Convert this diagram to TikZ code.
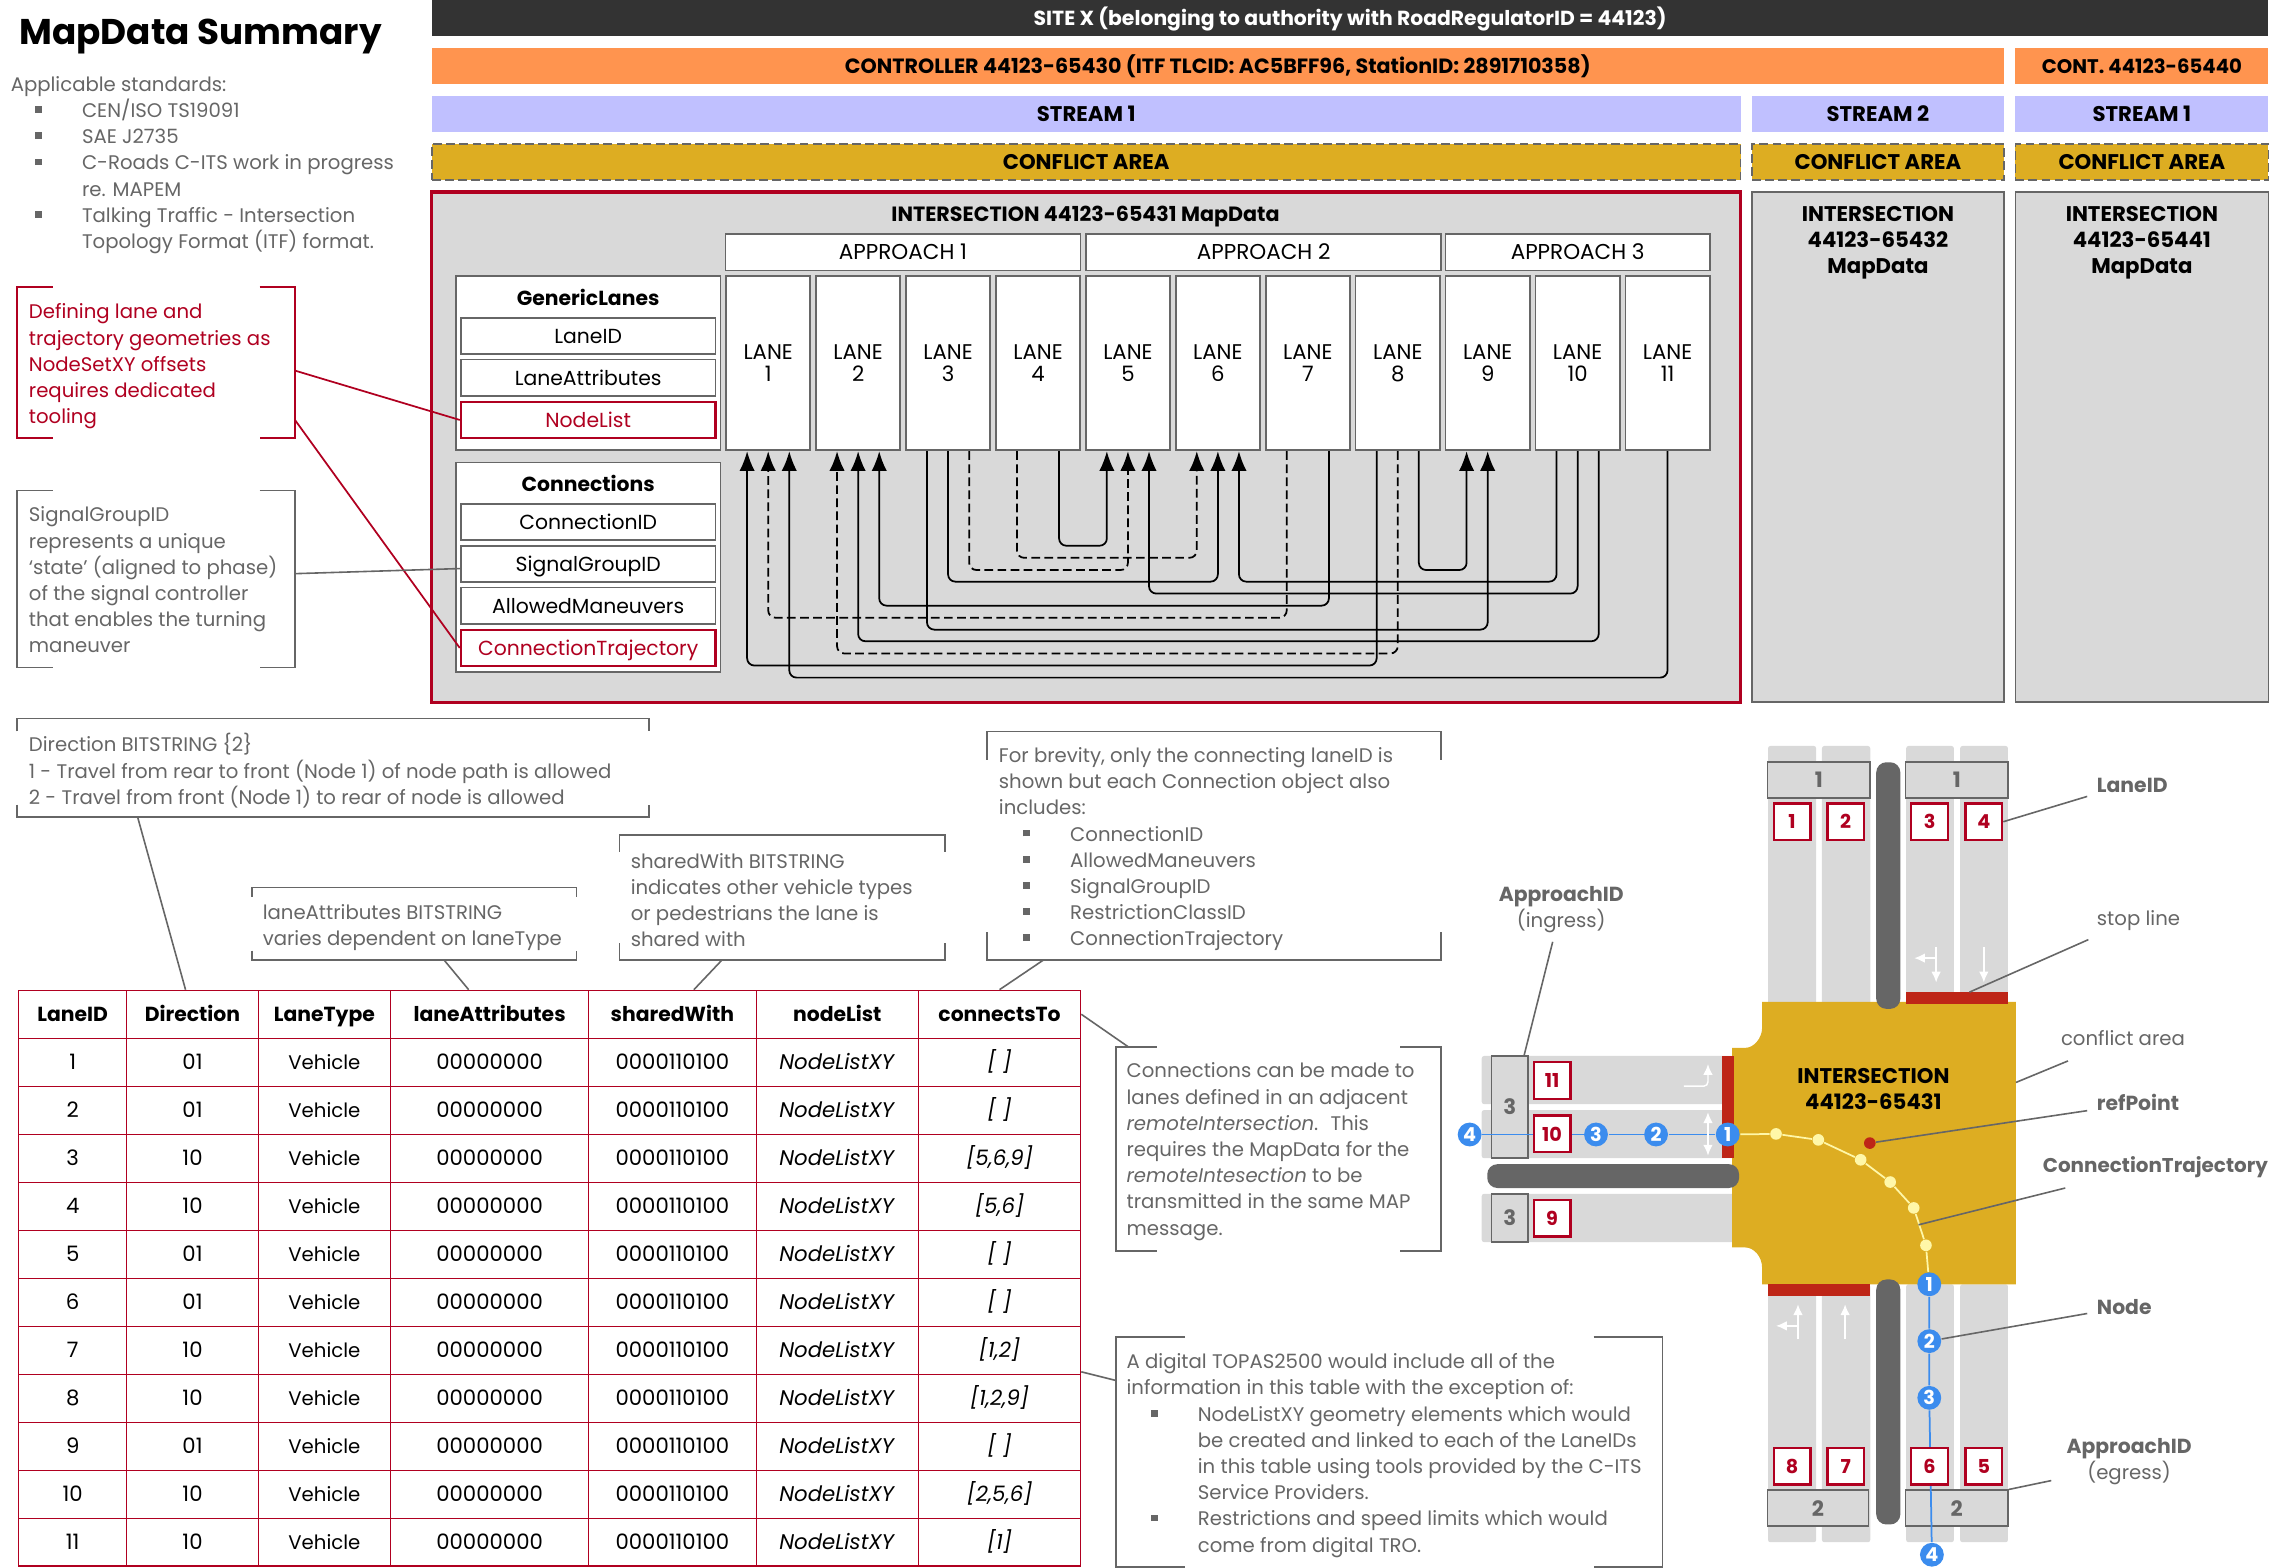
\documentclass[tikz,border=0pt]{standalone}
\usepackage{fontspec}
\setmainfont{Poppins}
\usetikzlibrary{arrows.meta,positioning,fit}
\definecolor{mapred}{HTML}{B00020}
\definecolor{notegray}{HTML}{666666}
\definecolor{roadgray}{HTML}{D9D9D9}
\definecolor{goldarea}{HTML}{DDAD22}
\definecolor{stopred}{HTML}{BE2517}
\definecolor{nodeblue}{HTML}{3B8CEE}
\definecolor{nodeyellow}{HTML}{FFF7A8}
\definecolor{bandstream}{HTML}{C0C0FF}
\definecolor{bandctrl}{HTML}{FF944F}
\definecolor{bandsite}{HTML}{333333}
\newcommand{\bodyfont}{\fontsize{7.3}{9}\selectfont}
\newcommand{\notefont}{\fontsize{6.77}{9}\selectfont}
\newcommand{\fieldfont}{\fontsize{7}{9}\selectfont}
\newcommand{\lanefont}{\fontsize{7.3}{7.6}\selectfont}
\newcommand{\smallfont}{\fontsize{6.6}{7.6}\selectfont}
\newcommand{\bitem}{\makebox[24.5pt][l]{\hspace{8.4pt}\rule[1.6pt]{2.3pt}{2.3pt}}}
\newcommand{\bcont}{\hspace*{24.5pt}}
% open boxes round the notes
\newcommand{\hticks}[3][notegray]{
\draw[bracket,#1] ([xshift=#3]#2.north west) -- (#2.north west) -- (#2.south west) -- ([xshift=#3]#2.south west);
\draw[bracket,#1] ([xshift=-#3]#2.north east) -- (#2.north east) -- (#2.south east) -- ([xshift=-#3]#2.south east);}
\newcommand{\vticks}[2]{
\draw[bracket] ([yshift=-#2]#1.north west) -- (#1.north west) -- (#1.north east) -- ([yshift=-#2]#1.north east);
\draw[bracket] ([yshift=#2]#1.south west) -- (#1.south west) -- (#1.south east) -- ([yshift=#2]#1.south east);}
\newcommand{\tablerow}[4]{
\pgfmathsetmacro{\ry}{697.5+33*#1}
\node[tcell=74.3] (r#1a) at (50,\ry) {#2};
\node[tcell=90.6] (r#1b) at (132.4,\ry) {#3};
\node[tcell=90.8, font=\notefont] (r#1c) at (223.1,\ry) {Vehicle};
\node[tcell=136.3] (r#1d) at (336.7,\ry) {00000000};
\node[tcell=115.2] (r#1e) at (462.4,\ry) {0000110100};
\node[tcell=111.6] (r#1f) at (575.8,\ry) {\textit{NodeListXY}};
\node[tcell=111.6] (r#1g) at (687.4,\ry) {\textit{#4}};}
\tikzset{
  oneline/.style = {text height=6.3pt, text depth=1.1pt},
  struts/.style = {execute at begin node={\rule{0pt}{7.6pt}}, execute at end node={\rule[-1.2pt]{0pt}{1.2pt}}},
  band/.style = {oneline, minimum height=12.5pt, font=\bodyfont\bfseries},
  bracket/.style = {notegray, line width=0.6pt},
  fieldbox/.style = {oneline, draw=notegray, line width=0.6pt, fill=white, minimum width=87.5pt, minimum height=12.5pt, font=\fieldfont},
  fieldred/.style = {fieldbox, draw=mapred, text=mapred, line width=0.8pt},
  lanebox/.style = {draw=notegray, line width=0.6pt, fill=white, minimum width=29pt, minimum height=60pt, align=center, font=\lanefont},
  apbox/.style = {oneline, draw=notegray, line width=0.6pt, fill=white, minimum height=12.5pt, font=\fontsize{7.4}{9}\selectfont},
  link/.style = {line width=0.6pt, rounded corners=2.5pt, -{Latex[length=6.8pt,width=5.3pt]}},
  dashlink/.style = {link, dash pattern=on 3pt off 1.5pt},
  tcell/.style = {oneline, draw=mapred, line width=0.4pt, minimum width=#1*0.5pt, minimum height=16.5pt},
  thead/.style = {tcell=#1, font=\fieldfont\bfseries},
  notetext/.style = {struts, yshift=-1pt, anchor=west, align=left, text=notegray, font=\notefont},
  tagline/.style = {notegray, line width=0.55pt},
  road/.style = {roadgray, rounded corners=0.8pt},
  median/.style = {notegray, rounded corners=3.5pt},
  aproach/.style = {draw=notegray, line width=0.6pt, fill=roadgray, text=notegray, font=\bodyfont\bfseries},
  idbox/.style = {draw=mapred, line width=0.8pt, fill=white, text=mapred, minimum size=12.6pt, font=\smallfont\bfseries},
  nodedot/.style = {circle, fill=nodeblue, text=white, minimum size=8.2pt, font=\smallfont\bfseries},
  trajdot/.style = {circle, fill=nodeyellow, minimum size=4pt},
  turn/.style = {white, line width=0.5pt, -{Latex[length=3.7pt,width=3.3pt]}},
  tag/.style = {oneline, text=notegray, font=\fieldfont\bfseries},
  plaintag/.style = {oneline, anchor=west, text=notegray, font=\notefont},
}
\begin{document}
\begin{tikzpicture}[x=0.5pt, y=-0.5pt, every node/.style={inner sep=0pt, font=\bodyfont}, node distance=1.3pt]
\useasboundingbox (0,0) rectangle (1568,1078.3);

% header
\node[font=\fontsize{12.3}{16}\selectfont\bfseries, anchor=west] (title) at (13,25) {MapData Summary};
\node[notetext] (standards) at (7,111.5) {Applicable standards:\\
\bitem CEN/ISO TS19091\\
\bitem SAE J2735\\
\bitem C-Roads C-ITS work in progress\\
\bcont re. MAPEM\\
\bitem Talking Traffic - Intersection\\
\bcont Topology Format (ITF) format.};

% bands
\node[band, fill=bandsite, text=white, minimum width=631.5pt, font=\fieldfont\bfseries] (site) at (928.5,12.5) {SITE X (belonging to authority with RoadRegulatorID = 44123)};
\node[band, fill=bandctrl, minimum width=540.5pt, font=\fontsize{7.1}{9}\selectfont\bfseries] (ctrl1) at (837.5,45.5) {CONTROLLER 44123-65430 (ITF TLCID: AC5BFF96, StationID: 2891710358)};
\node[band, fill=bandctrl, minimum width=87pt, font=\notefont\bfseries] (ctrl2) at (1473,45.5) {CONT. 44123-65440};
\foreach \n/\cx/\w/\lab in {a/747/450/STREAM 1, b/1291.5/86.5/STREAM 2, c/1473/87/STREAM 1} {
  \node[band, fill=bandstream, minimum width=\w pt] (stream\n) at (\cx,78.5) {\lab};
  \node[band, fill=goldarea, draw=notegray, dash pattern=on 3pt off 1.5pt, line width=0.6pt, minimum width=\w pt] (conflict\n) at (\cx,111.5) {CONFLICT AREA};
}

% intersections
\node[fill=roadgray, draw=mapred, line width=1.1pt, minimum width=450pt, minimum height=175.5pt] (isecta) at (747,307.5) {};
\node[fill=roadgray, draw=notegray, line width=0.6pt, minimum width=86.5pt, minimum height=175.5pt] (isectb) at (1291.5,307.5) {};
\node[fill=roadgray, draw=notegray, line width=0.6pt, minimum width=87pt, minimum height=175.5pt] (isectc) at (1473,307.5) {};
\node[oneline, font=\fontsize{7.1}{9}\selectfont\bfseries] (isecttitlea) at (746.5,147) {INTERSECTION 44123-65431 MapData};
\node[struts, font=\bodyfont\bfseries, align=center] (isecttitleb) at (1291.5,167) {INTERSECTION\\44123-65432\\MapData};
\node[struts, font=\bodyfont\bfseries, align=center] (isecttitlec) at (1473,167) {INTERSECTION\\44123-65441\\MapData};

\node[apbox, minimum width=122pt] (appr1) at (621,173.5) {APPROACH 1};
\node[apbox, minimum width=122pt] (appr2) at (869,173.5) {APPROACH 2};
\node[apbox, minimum width=91pt] (appr3) at (1085,173.5) {APPROACH 3};
\foreach \i in {1,...,11}
  \node[lanebox] (lane\i) at ({528.3+61.85*(\i-1)},249.7) {LANE\\\i};

% field groups
\node[draw=notegray, line width=0.6pt, fill=white, minimum width=91pt, minimum height=60pt] (glanes) at (404.5,249.7) {};
\node[oneline, font=\fieldfont\bfseries] (glanestitle) at (404.5,205) {GenericLanes};
\node[fieldbox] (laneid) at (404.5,231) {LaneID};
\node[fieldbox, below=of laneid] (laneattr) {LaneAttributes};
\node[fieldred, below=of laneattr] (nodelist) {NodeList};
\node[draw=notegray, line width=0.6pt, fill=white, minimum width=91pt, minimum height=72pt] (conns) at (404.5,390) {};
\node[oneline, font=\fieldfont\bfseries] (connstitle) at (404.5,333) {Connections};
\node[fieldbox] (connid) at (404.5,359) {ConnectionID};
\node[fieldbox, below=of connid] (siggroup) {SignalGroupID};
\node[fieldbox, below=of siggroup] (allowed) {AllowedManeuvers};
\node[fieldred, below=of allowed] (conntraj) {ConnectionTrajectory};

% lane connections: from/offset/to/offset/level
\foreach \a/\fx/\b/\tx/\lvl in {4/7.25/5/-7.25/375.3, 8/7.25/9/-7.25/392, 3/0/6/0/400, 10/-7.25/6/7.25/400,
  10/0/5/7.25/408.2, 7/7.25/2/7.25/416.5, 3/-7.25/9/0/433, 10/7.25/2/0/441, 8/-7.25/1/-7.25/457.7, 11/0/1/7.25/466}
  \draw[link] ([xshift=\fx pt]lane\a.south) -- ([xshift=\fx pt]lane\a.south |- 0,\lvl) -- ([xshift=\tx pt]lane\b.south |- 0,\lvl) -- ([xshift=\tx pt]lane\b.south);
\foreach \a/\fx/\b/\tx/\lvl in {4/-7.25/6/-7.25/383.6, 3/7.25/5/0/392, 7/-7.25/1/0/424.8, 8/0/2/-7.25/449.4}
  \draw[dashlink] ([xshift=\fx pt]lane\a.south) -- ([xshift=\fx pt]lane\a.south |- 0,\lvl) -- ([xshift=\tx pt]lane\b.south |- 0,\lvl) -- ([xshift=\tx pt]lane\b.south);

% notes on the left
\node[fit={(12.3,198) (202.6,301)}] (rednote) {};
\node[notetext, text=mapred] (rednotetext) at (19.5,250) {Defining lane and\\trajectory geometries as\\NodeSetXY offsets\\requires dedicated\\tooling};
\hticks[mapred]{rednote}{12.2pt}
\node[fit={(12.3,337.7) (202.6,458.7)}] (signote) {};
\node[notetext] (signotetext) at (19.5,398) {SignalGroupID\\represents a unique\\‘state’ (aligned to phase)\\of the signal controller\\that enables the turning\\maneuver};
\hticks{signote}{12.2pt}
\draw[mapred, line width=0.6pt] ([yshift=-2.7pt]rednote.east) -- (nodelist.west);
\draw[mapred, line width=0.6pt] ([yshift=6.2pt]rednote.south east) -- (conntraj.west);
\draw[tagline] ([yshift=1.85pt]signote.east) -- ([yshift=-1.6pt]siggroup.west);

% table
\foreach \cx/\w/\name/\lab in {50/74.3/a/LaneID, 132.4/90.6/b/Direction, 223.1/90.8/c/LaneType, 336.7/136.3/d/laneAttributes, 462.4/115.2/e/sharedWith, 575.8/111.6/f/nodeList, 687.4/111.6/g/connectsTo}
  \node[thead=\w] (head\name) at (\cx,697.5) {\lab};
\tablerow{1}{1}{01}{[ ]}
\tablerow{2}{2}{01}{[ ]}
\tablerow{3}{3}{10}{[5,6,9]}
\tablerow{4}{4}{10}{[5,6]}
\tablerow{5}{5}{01}{[ ]}
\tablerow{6}{6}{01}{[ ]}
\tablerow{7}{7}{10}{[1,2]}
\tablerow{8}{8}{10}{[1,2,9]}
\tablerow{9}{9}{01}{[ ]}
\tablerow{10}{10}{10}{[2,5,6]}
\tablerow{11}{11}{10}{[1]}

% notes round the table
\node[fit={(12.3,494.5) (446,561.7)}] (dirnote) {};
\node[notetext] (dirnotetext) at (19.5,528) {Direction BITSTRING \{2\}\\1 - Travel from rear to front (Node 1) of node path is allowed\\2 - Travel from front (Node 1) to rear of node is allowed};
\vticks{dirnote}{4.4pt}
\node[fit={(173.7,610.8) (396,659.7)}] (attrnote) {};
\node[notetext] (attrnotetext) at (180.3,636) {laneAttributes BITSTRING\\varies dependent on laneType};
\vticks{attrnote}{3.2pt}
\node[fit={(426.4,574.7) (649.6,659.7)}] (sharednote) {};
\node[notetext] (sharednotetext) at (433.4,618) {sharedWith BITSTRING\\indicates other vehicle types\\or pedestrians the lane is\\shared with};
\vticks{sharednote}{5.7pt}
\node[fit={(679.3,503.4) (990.5,660)}] (brevnote) {};
\node[notetext] (brevnotetext) at (686.6,582) {For brevity, only the connecting laneID is\\shown but each Connection object also\\includes:\\
\bitem ConnectionID\\
\bitem AllowedManeuvers\\
\bitem SignalGroupID\\
\bitem RestrictionClassID\\
\bitem ConnectionTrajectory};
\vticks{brevnote}{9.7pt}
\node[fit={(768,720.5) (990.5,859.7)}] (remotenote) {};
\node[notetext] (remotenotetext) at (774.4,790) {Connections can be made to\\lanes defined in an adjacent\\\textit{remoteIntersection}.~ This\\requires the MapData for the\\\textit{remoteIntesection} to be\\transmitted in the same MAP\\message.};
\hticks{remotenote}{14pt}
\node[fit={(768,920) (1143,1077)}] (topasnote) {};
\node[notetext] (topasnotetext) at (774.4,999) {A digital TOPAS2500 would include all of the\\information in this table with the exception of:\\
\bitem NodeListXY geometry elements which would\\
\bcont be created and linked to each of the LaneIDs\\
\bcont in this table using tools provided by the C-ITS\\
\bcont Service Providers.\\
\bitem Restrictions and speed limits which would\\
\bcont come from digital TRO.};
\hticks{topasnote}{23.7pt}
\draw[tagline] ([xshift=41.4pt]dirnote.south west) -- ([xshift=-2.4pt]headb.north);
\draw[tagline] ([xshift=66pt]attrnote.south west) -- ([xshift=-7.2pt]headd.north);
\draw[tagline] ([xshift=35.3pt]sharednote.south west) -- ([xshift=7.4pt]heade.north);
\draw[tagline] ([xshift=19.2pt]brevnote.south west) -- (headg.north);
\draw[tagline] (headg.east) -- ([xshift=4.3pt]remotenote.north west);
\draw[tagline] ([yshift=1pt]r7g.south east) -- ([yshift=-14.9pt]topasnote.north west);

% junction
\foreach \xa/\xb in {1215.9/1249, 1253/1286.2, 1310.9/1343.7, 1348/1380.9} {
  \fill[road] (\xa,513) rectangle (\xb,690.5);
  \fill[road] (\xb,883.2) rectangle (\xa,1060.6);
}
\foreach \ya/\yb in {726.2/759.3, 763.4/796.5, 821/854.2}
  \fill[road] (1019,\ya) rectangle (1192.6,\yb);
\fill[goldarea] (1211.8,689) -- (1386.4,689) -- (1386.4,883.2) -- (1211.8,883.2) -- (1211.8,871.7)
  .. controls (1211.8,864) and (1206,857.9) .. (1200.4,857.9) -- (1191.2,857.9) -- (1191.2,720.6) -- (1200.4,720.6)
  .. controls (1206,720.6) and (1211.8,714) .. (1211.8,707) -- cycle;
\fill[stopred] (1310.9,682.3) rectangle (1381,690.5);
\fill[stopred] (1215.9,883.2) rectangle (1286.2,891.4);
\fill[stopred] (1184.2,726.2) rectangle (1192.6,796.5);
\fill[median] (1290.3,524.2) rectangle (1306.9,693.8);
\fill[median] (1290.3,879.9) rectangle (1306.9,1048.4);
\fill[median] (1022.8,800.6) rectangle (1196,817);

\node[aproach, minimum width=35.3pt, minimum height=12.3pt] (north1) at (1250.8,536.5) {1};
\node[aproach, minimum width=35.2pt, minimum height=12.3pt] (north2) at (1345.7,536.5) {1};
\node[aproach, minimum width=34.7pt, minimum height=12.3pt] (south1) at (1250.2,1037.2) {2};
\node[aproach, minimum width=35.2pt, minimum height=12.3pt] (south2) at (1345.7,1037.2) {2};
\node[aproach, minimum width=12.5pt, minimum height=35.1pt] (west1) at (1038.3,761.3) {3};
\node[aproach, minimum width=12.5pt, minimum height=16.6pt] (west2) at (1038.3,837.6) {3};

% node paths
\foreach \n/\px in {4/1010.7, 3/1097.6, 2/1138.9, 1/1188.2}
  \node[nodedot] (w\n) at (\px,780.2) {\n};
\foreach \n/\px/\py in {1/1326.8/883.2, 2/1326.8/922.3, 3/1326.8/961.3, 4/1328.6/1069.2}
  \node[nodedot] (s\n) at (\px,\py) {\n};
\foreach \n/\px/\py in {1/1221.4/779.8, 2/1250.5/783.9, 3/1279.6/797.6, 4/1299.9/812.9, 5/1316.1/830.7, 6/1324.5/856.4}
  \node[trajdot] (t\n) at (\px,\py) {};
\draw[nodeblue, line width=0.6pt] (w4) -- (w3) -- (w2) -- (w1);
\draw[nodeblue, line width=0.6pt] (s1) -- (s2) -- (s3) -- (s4);
\draw[nodeyellow, line width=0.6pt] (w1) -- (t1) -- (t2) -- (t3) -- (t4) -- (t5) -- (t6) -- (s1);

\foreach \n/\px/\py in {1/1232.4/565.1, 2/1269.3/565.1, 3/1327/565.1, 4/1364.3/565.1, 8/1232.4/1008.2, 7/1269.3/1008.2, 6/1327/1008.2, 5/1364.3/1008.2, 11/1067.4/743, 10/1067.4/779.8, 9/1067.4/837.8}
  \node[idbox] (id\n) at (\px,\py) {\n};

% road arrows
\draw[turn] (1331.5,651.4) -- (1331.5,675.6);
\draw[turn] (1331.5,658.9) -- (1316.4,658.9);
\draw[turn] (1364.3,651.4) -- (1364.3,675.6);
\draw[turn] (1236.5,921.1) -- (1236.5,897);
\draw[turn] (1236.5,911.8) -- (1221.4,911.8);
\draw[turn] (1268.9,921.1) -- (1268.9,897);
\draw[turn, rounded corners=1.5pt] (1158,747) -- (1174.6,747) -- (1174.6,731.8);
\draw[turn, {Latex[length=3.7pt,width=3.3pt]}-{Latex[length=3.7pt,width=3.3pt]}] (1174.6,764.9) -- (1174.6,794.7);

\node[circle, fill=stopred, minimum size=4pt] (refdot) at (1285.9,786.1) {};
\node[struts, font=\bodyfont\bfseries, align=center] (isectlabel) at (1288.4,750) {INTERSECTION\\44123-65431};

% labels round the junction
\node[tag, anchor=west] (tagid) at (1441.7,539.8) {LaneID};
\node[plaintag] (tagstop) at (1441.7,631) {stop line};
\node[plaintag] (tagarea) at (1417,714) {conflict area};
\node[tag, anchor=west] (tagref) at (1441.7,758.6) {refPoint};
\node[tag, anchor=west, font=\fontsize{6.85}{9}\selectfont\bfseries] (tagtraj) at (1404.5,801) {ConnectionTrajectory};
\node[tag, anchor=west] (tagnode) at (1441.7,898.8) {Node};
\node[struts, text=notegray, align=center, font=\notefont] (tagegress) at (1464.2,1005) {\fontsize{7}{9}\selectfont\textbf{ApproachID}\\(egress)};
\node[struts, text=notegray, align=center, font=\notefont] (tagingress) at (1073.7,625.3) {\fontsize{7}{9}\selectfont\textbf{ApproachID}\\(ingress)};
\coordinate (endid) at (1435.4,547.7);
\coordinate (endstop) at (1436.2,646.2);
\coordinate (endarea) at (1422.2,729.6);
\coordinate (endref) at (1435.4,763.8);
\coordinate (endtraj) at (1420.3,817);
\coordinate (endnode) at (1435.4,903.3);
\coordinate (endegress) at (1410.7,1018.2);
\coordinate (endingress) at (1067.8,647.7);
\coordinate (stopmid) at (1354.4,682.3);
\coordinate (areaside) at (1386.4,744.4);
\coordinate (trajmid) at (1319.4,842.3);
\draw[tagline] (endid) -- (id4.east);
\draw[tagline] (endstop) -- (stopmid);
\draw[tagline] (endarea) -- (areaside);
\draw[tagline] (endref) -- (refdot);
\draw[tagline] (endtraj) -- (trajmid);
\draw[tagline] (endnode) -- (s2);
\draw[tagline] (endegress) -- (south2.north east);
\draw[tagline] (endingress) -- ([xshift=-1.6pt]west1.north east);
\end{tikzpicture}
\end{document}
